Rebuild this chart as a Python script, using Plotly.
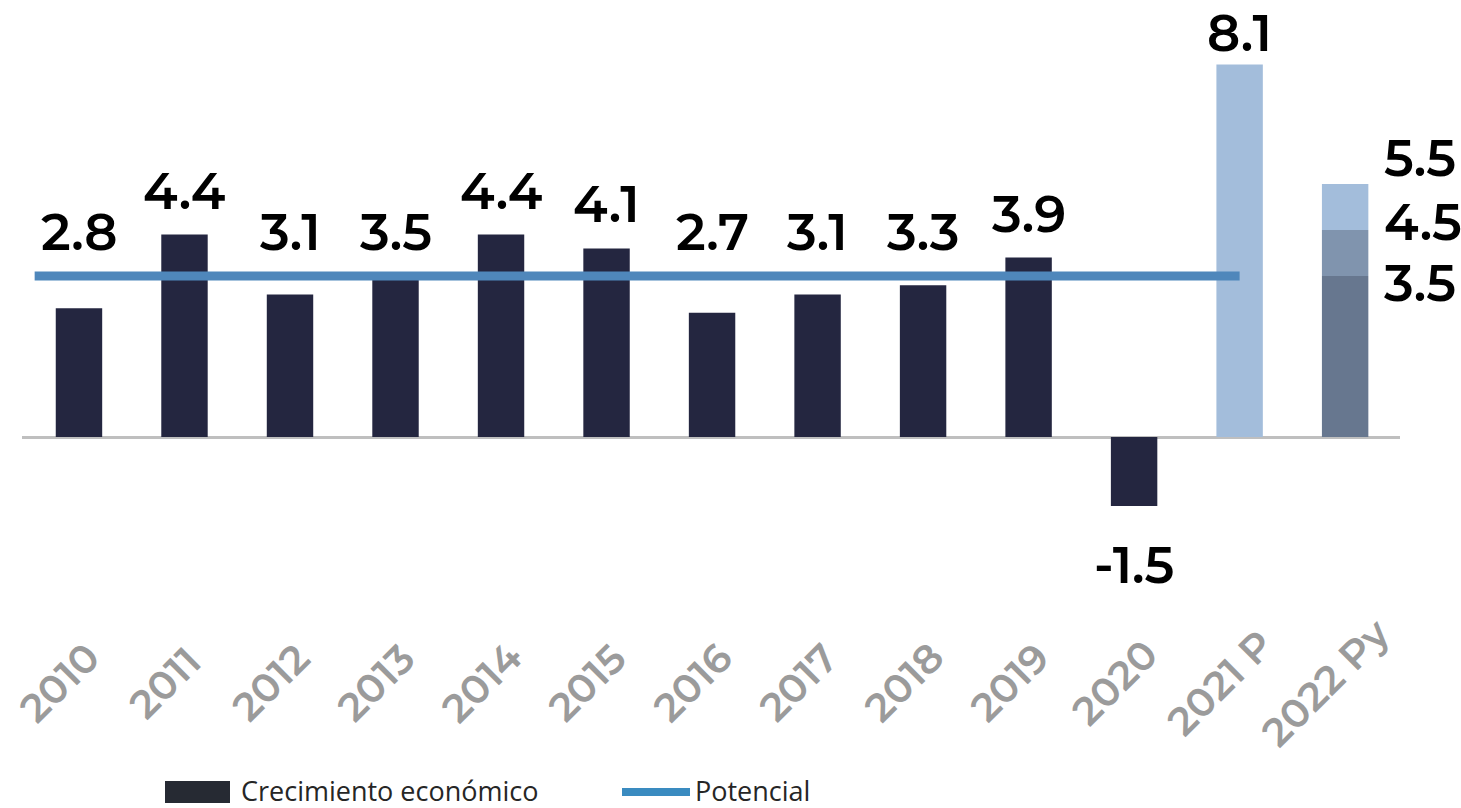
import plotly.graph_objects as go
import numpy as np

# ---------------- data ----------------
categories = ["2010", "2011", "2012", "2013", "2014", "2015", "2016", "2017",
              "2018", "2019", "2020", "2021 P", "2022 Py"]
growth = [2.8, 4.4, 3.1, 3.5, 4.4, 4.1, 2.7, 3.1, 3.3, 3.9, -1.5]   # 2010-2020
growth_2021 = 8.1                                                    # 2021 P
scenarios_2022 = [3.5, 4.5, 5.5]                                     # 2022 Py (low, mid, high)
potential = 3.5                                                      # potential growth 2010-2021
legend_names = ["Crecimiento económico", "Potencial"]

# ---------------- style ----------------
W, H = 1461, 808
PL, PR, PT, PB = 22, 1400, 0, 625          # plot area in pixels
BASE_PX = 437                                # pixel row of zero
SCALE = 46.0                                 # px per unit
y_top = (BASE_PX - PT) / SCALE
y_bot = -(PB - BASE_PX) / SCALE

DARK = "#242640"
LIGHT = "#a3bddb"
MID = "#8094ae"
SLATE = "#67778f"
LINE = "#4f87bb"
VAL_FONT = dict(family="Montserrat, Inter, Lato, sans-serif", size=51, color="#000000", weight=600)
TICK_FONT = dict(family="Montserrat, Inter, Lato, sans-serif", size=40, color="#9b9b9b", weight=600)

pos = np.arange(len(categories))
bw = 0.44

fig = go.Figure()

# historical bars
fig.add_trace(go.Bar(x=pos[:len(growth)], y=growth, width=bw, marker_color=DARK,
                     marker_line_width=0, showlegend=False))
# 2021 projection
fig.add_trace(go.Bar(x=[pos[11]], y=[growth_2021], width=bw, marker_color=LIGHT,
                     marker_line_width=0, showlegend=False))
# 2022 scenarios stacked
bases = [0] + scenarios_2022[:-1]
heights = [s - b for s, b in zip(scenarios_2022, bases)]
for b, h, c in zip(bases, heights, [SLATE, MID, LIGHT]):
    fig.add_trace(go.Bar(x=[pos[12]], y=[h], base=[b], width=bw, marker_color=c,
                         marker_line_width=0, showlegend=False))

# potential line
pot_x = [pos[0] - 0.42] + list(pos[1:12])
fig.add_trace(go.Scatter(x=pot_x, y=[potential] * len(pot_x), mode="lines",
                         line=dict(color=LINE, width=9), showlegend=False))

annotations = []
# value labels
values = growth + [growth_2021]
for i, v in enumerate(values):
    if v >= 0:
        shift = -2 if i == len(values) - 1 else 11
        annotations.append(dict(x=pos[i], y=max(v, potential), text=f"{v:.1f}", showarrow=False,
                                xanchor="center", yanchor="bottom", yshift=shift, font=VAL_FONT))
    else:
        annotations.append(dict(x=pos[i], y=v, text=f"{v:.1f}", showarrow=False,
                                xanchor="center", yanchor="top", yshift=-26, font=VAL_FONT))
for s, ys in zip(scenarios_2022, [-7, 8, 26]):
    annotations.append(dict(x=pos[12] + 0.35, y=s, text=f"{s:.1f}", showarrow=False,
                            xanchor="left", yanchor="middle", yshift=ys, font=VAL_FONT))

# pixel -> paper helpers
def px(x):
    return (x - PL) / (PR - PL)
def py(y):
    return (PB - y) / (PB - PT)

# category labels, rotated and centred under each bar
for p, c in zip(pos, categories):
    annotations.append(dict(x=p, xref="x", y=py(682), yref="paper", text=c, showarrow=False,
                            textangle=-45, xanchor="center", yanchor="middle", xshift=-20,
                            font=TICK_FONT))

# custom legend
shapes = [
    dict(type="rect", xref="paper", yref="paper", x0=px(165), x1=px(230), y0=py(803), y1=py(781),
         fillcolor="#262a33", line_width=0),
    dict(type="line", xref="paper", yref="paper", x0=px(622), x1=px(690), y0=py(792), y1=py(792),
         line=dict(color="#3a8bc0", width=8)),
]
leg_font = dict(family="Open Sans, Lato, sans-serif", size=27, color="#262626")
annotations.append(dict(xref="paper", yref="paper", x=px(239), y=py(790), text=legend_names[0],
                        showarrow=False, xanchor="left", yanchor="middle", font=leg_font))
annotations.append(dict(xref="paper", yref="paper", x=px(693), y=py(790), text=legend_names[1],
                        showarrow=False, xanchor="left", yanchor="middle", font=leg_font))

fig.update_layout(
    width=W, height=H,
    margin=dict(l=PL, r=W - PR, t=PT, b=H - PB, pad=0, autoexpand=False),
    paper_bgcolor="white", plot_bgcolor="white",
    barmode="overlay",
    showlegend=False,
    annotations=annotations,
    shapes=shapes,
    xaxis=dict(range=[-0.54, 12.52], showticklabels=False, showgrid=False, zeroline=False,
               showline=False, ticks="", automargin=False),
    yaxis=dict(range=[y_bot, y_top], showgrid=False, showticklabels=False, ticks="",
               automargin=False,
               zeroline=True, zerolinecolor="#bfbfbf", zerolinewidth=3, showline=False),
)

fig.write_html("out.html", config={"displayModeBar": False},
               post_script="document.body.style.margin='0';document.body.style.overflow='hidden';")
